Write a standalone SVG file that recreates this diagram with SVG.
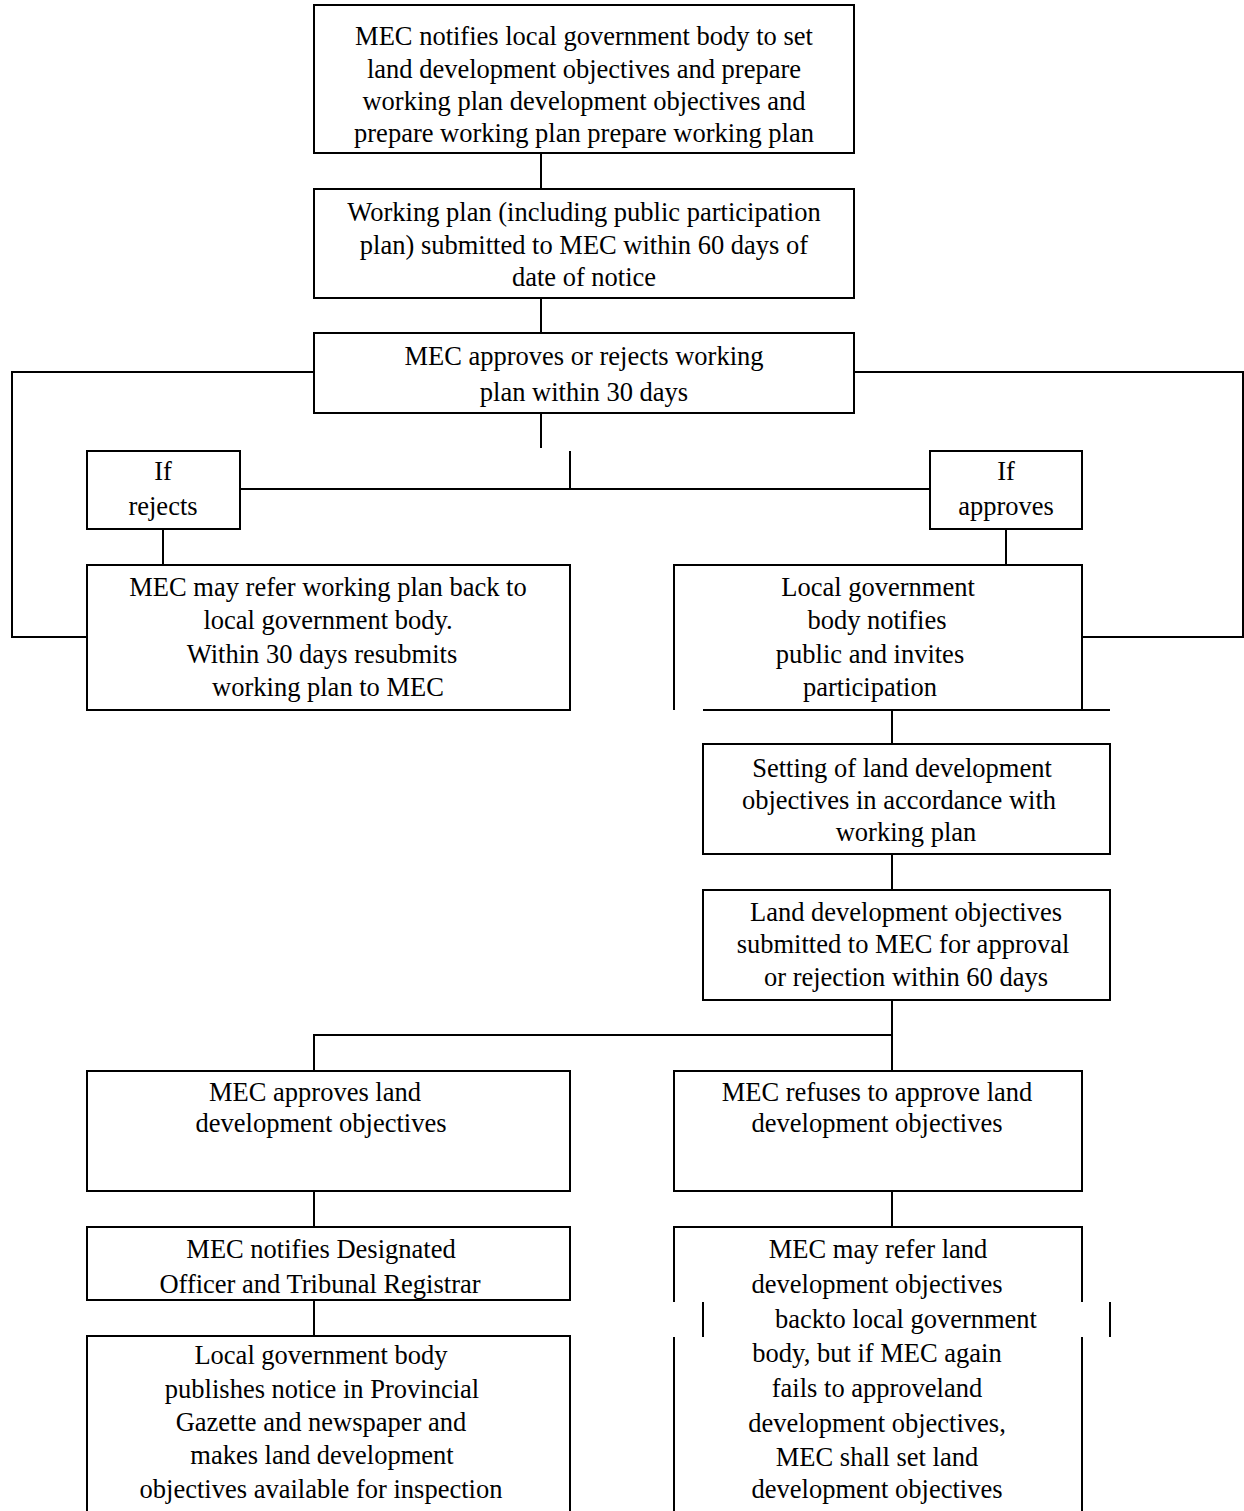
<svg xmlns="http://www.w3.org/2000/svg" width="1244" height="1511" viewBox="0 0 1244 1511">
<style>
.b{fill:#fff;stroke:#000;stroke-width:2}
.l{fill:none;stroke:#000;stroke-width:2}
text{font-family:"Liberation Serif","Times New Roman",serif;font-size:26.5px;fill:#000;text-anchor:middle}
</style>
<rect width="1244" height="1511" fill="#fff"/>
<g id="connectors">
<path class="l" d="M541 153V189M541 298V333M541 413V448M570 451V489M240 489H930M314 372H12V637H87M854 372H1243V637H1082M163 529V565M1006 529V565M892 710V744M892 854V890M892 1000V1071M892 1035H314V1071M314 1191V1227M892 1191V1227M314 1300V1336"/>
</g>
<g id="n1"><rect class="b" x="314" y="5" width="540" height="148"/>
<text x="584" y="45">MEC notifies local government body to set</text>
<text x="584" y="78">land development objectives and prepare</text>
<text x="584" y="110">working plan development objectives and</text>
<text x="584" y="142">prepare working plan prepare working plan</text></g>
<g id="n2"><rect class="b" x="314" y="189" width="540" height="109"/>
<text x="584" y="221">Working plan (including public participation</text>
<text x="584" y="254">plan) submitted to MEC within 60 days of</text>
<text x="584" y="286">date of notice</text></g>
<g id="n3"><rect class="b" x="314" y="333" width="540" height="80"/>
<text x="584" y="365">MEC approves or rejects working</text>
<text x="584" y="401">plan within 30 days</text></g>
<g id="n4"><rect class="b" x="87" y="451" width="153" height="78"/>
<text x="163" y="480">If</text>
<text x="163" y="515">rejects</text></g>
<g id="n5"><rect class="b" x="930" y="451" width="152" height="78"/>
<text x="1006" y="480">If</text>
<text x="1006" y="515">approves</text></g>
<g id="n6"><rect class="b" x="87" y="565" width="483" height="145"/>
<text x="328" y="596">MEC may refer working plan back to</text>
<text x="328" y="629">local government body.</text>
<text x="322" y="663">Within 30 days resubmits</text>
<text x="328" y="696">working plan to MEC</text></g>
<g id="n7"><path class="l" d="M674 710V565H1082V710M703 710H1110"/>
<text x="878" y="596">Local government</text>
<text x="877" y="629">body notifies</text>
<text x="870" y="663">public and invites</text>
<text x="870" y="696">participation</text></g>
<g id="n8"><rect class="b" x="703" y="744" width="407" height="110"/>
<text x="902" y="777">Setting of land development</text>
<text x="899" y="809">objectives in accordance with</text>
<text x="906" y="841">working plan</text></g>
<g id="n9"><rect class="b" x="703" y="890" width="407" height="110"/>
<text x="906" y="921">Land development objectives</text>
<text x="903" y="953">submitted to MEC for approval</text>
<text x="906" y="986">or rejection within 60 days</text></g>
<g id="n10"><rect class="b" x="87" y="1071" width="483" height="120"/>
<text x="315" y="1101">MEC approves land</text>
<text x="321" y="1132">development objectives</text></g>
<g id="n11"><rect class="b" x="674" y="1071" width="408" height="120"/>
<text x="877" y="1101">MEC refuses to approve land</text>
<text x="877" y="1132">development objectives</text></g>
<g id="n12"><rect class="b" x="87" y="1227" width="483" height="73"/>
<text x="321" y="1258">MEC notifies Designated</text>
<text x="320" y="1293">Officer and Tribunal Registrar</text></g>
<g id="n13"><path class="l" d="M87 1512V1336H570V1512"/>
<text x="321" y="1364">Local government body</text>
<text x="322" y="1398">publishes notice in Provincial</text>
<text x="321" y="1431">Gazette and newspaper and</text>
<text x="322" y="1464">makes land development</text>
<text x="321" y="1498">objectives available for inspection</text></g>
<g id="n14"><path class="l" d="M674 1302V1227H1082V1302M703 1302V1337M1110 1302V1337M674 1337V1512M1082 1337V1512"/>
<text x="878" y="1258">MEC may refer land</text>
<text x="877" y="1293">development objectives</text>
<text x="906" y="1328">backto local government</text>
<text x="877" y="1362">body, but if MEC again</text>
<text x="877" y="1397">fails to approveland</text>
<text x="877" y="1432">development objectives,</text>
<text x="877" y="1466">MEC shall set land</text>
<text x="877" y="1498">development objectives</text></g>
</svg>
